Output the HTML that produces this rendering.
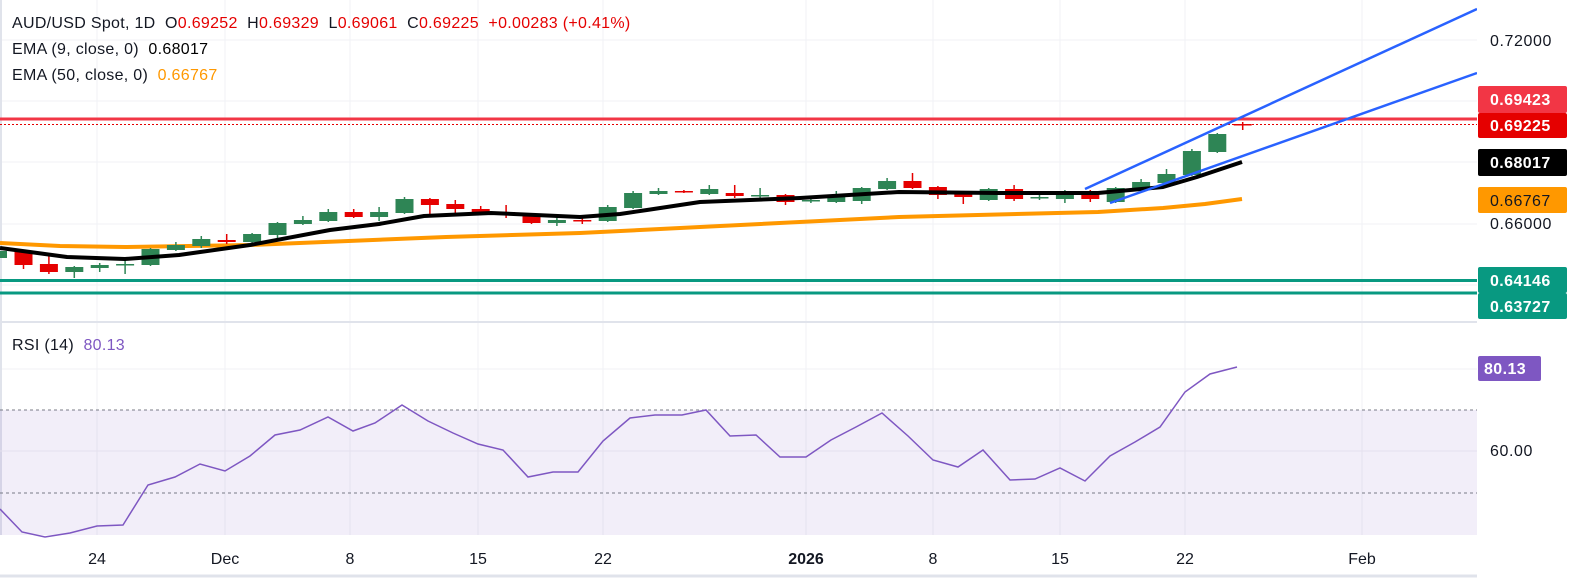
<!DOCTYPE html>
<html><head><meta charset="utf-8"><style>
html,body{margin:0;padding:0;background:#fff;}
body{width:1574px;height:578px;overflow:hidden;font-family:"Liberation Sans",sans-serif;}
svg text{font-family:"Liberation Sans",sans-serif;white-space:pre;}
</style></head><body>
<svg width="1574" height="578" viewBox="0 0 1574 578" xmlns="http://www.w3.org/2000/svg" xml:space="preserve">
<rect width="1574" height="578" fill="#fff"/>
<g stroke="#f0f2f5" stroke-width="1">
<line x1="0" y1="40" x2="1477" y2="40"/><line x1="0" y1="101" x2="1477" y2="101"/><line x1="0" y1="162" x2="1477" y2="162"/><line x1="0" y1="224" x2="1477" y2="224"/><line x1="0" y1="285" x2="1477" y2="285"/>
<line x1="0" y1="369" x2="1477" y2="369"/>
<line x1="97" y1="0" x2="97" y2="535"/><line x1="225" y1="0" x2="225" y2="535"/><line x1="350" y1="0" x2="350" y2="535"/><line x1="478" y1="0" x2="478" y2="535"/><line x1="603" y1="0" x2="603" y2="535"/><line x1="806" y1="0" x2="806" y2="535"/><line x1="933" y1="0" x2="933" y2="535"/><line x1="1060" y1="0" x2="1060" y2="535"/><line x1="1185" y1="0" x2="1185" y2="535"/><line x1="1362" y1="0" x2="1362" y2="535"/>
</g>
<line x1="0" y1="322" x2="1574" y2="322" stroke="#e0e3eb" stroke-width="2"/>
<line x1="0" y1="576" x2="1574" y2="576" stroke="#e0e3eb" stroke-width="3"/>
<line x1="1" y1="0" x2="1" y2="535" stroke="#e0e3eb" stroke-width="2"/>

<rect x="0" y="410" width="1477" height="125" fill="#7e57c2" fill-opacity="0.1"/>
<line x1="0" y1="451" x2="1477" y2="451" stroke="#e4e0ee" stroke-width="1"/>
<line x1="0" y1="410" x2="1477" y2="410" stroke="#787b86" stroke-dasharray="3,3" stroke-width="1"/>
<line x1="0" y1="493" x2="1477" y2="493" stroke="#787b86" stroke-dasharray="3,3" stroke-width="1"/>
<polyline fill="none" stroke="#7e57c2" stroke-width="1.5" points="0,509 22,532 45,537 70,533 97,526 123,525 148,485 175,477 200,464 225,471 250,456 275,435 300,430 328,417 353,431 375,423 402,405 428,421 453,433 478,444 503,450 528,477 553,472 578,472 603,441 630,418 655,415 682,415 706,410 730,436 756,435 780,457 806,457 831,440 856,427 882,413 908,436 933,460 958,467 983,450 1010,480 1035,479 1060,468 1085,481 1110,456 1135,442 1160,427 1185,392 1210,374 1237,367"/>

<line x1="0" y1="280.5" x2="1477" y2="280.5" stroke="#089981" stroke-width="3"/>
<line x1="0" y1="293" x2="1477" y2="293" stroke="#089981" stroke-width="3"/>
<line x1="0" y1="119" x2="1477" y2="119" stroke="#f23645" stroke-width="3"/>
<line x1="0" y1="124.5" x2="1477" y2="124.5" stroke="#e50000" stroke-width="1" stroke-dasharray="2,2"/>

<polyline fill="none" stroke="#ff9800" stroke-width="4" stroke-linejoin="round" points="0,243 60,246 125,247 250,245 446,237 580,233 700,227 899,217 1098,212 1163,208 1205,204 1242,199"/>

<g stroke="#2e8555" stroke-width="1.5" fill="#2e8555">
<path d="M-1.9 249V260M74.3 266V278M99.7 263V272M125.1 260V274M150.5 248V266M175.9 242V251M201.3 236V248M252.1 233V243M277.5 222V238M302.9 216V225M328.3 209V222M379.1 207V221M404.5 197V214M556.9 215V226M607.7 205V222M633.1 191V209M658.5 188V195M709.3 185V195M760.1 188V198M810.9 196V203M836.3 191V203M861.7 187V204M887.1 178V190M988.7 188V201M1039.5 192V200M1064.9 190V203M1115.7 187V203M1141.1 179V191M1166.5 169V184M1191.9 149V176M1217.3 133V153"/>
<rect x="-11" y="251" width="18" height="7" stroke="none"/>
<rect x="65.3" y="267" width="18" height="5" stroke="none"/>
<rect x="90.7" y="265" width="18" height="3" stroke="none"/>
<rect x="116.1" y="264" width="18" height="1.5" stroke="none"/>
<rect x="141.5" y="249" width="18" height="16" stroke="none"/>
<rect x="166.9" y="245" width="18" height="5" stroke="none"/>
<rect x="192.3" y="239" width="18" height="7" stroke="none"/>
<rect x="243.1" y="234" width="18" height="8" stroke="none"/>
<rect x="268.5" y="223" width="18" height="12" stroke="none"/>
<rect x="293.9" y="220" width="18" height="4" stroke="none"/>
<rect x="319.3" y="212" width="18" height="9" stroke="none"/>
<rect x="370.1" y="212" width="18" height="5" stroke="none"/>
<rect x="395.5" y="199" width="18" height="14" stroke="none"/>
<rect x="547.9" y="220" width="18" height="3" stroke="none"/>
<rect x="598.7" y="207" width="18" height="14" stroke="none"/>
<rect x="624.1" y="193" width="18" height="15" stroke="none"/>
<rect x="649.5" y="191" width="18" height="3" stroke="none"/>
<rect x="700.3" y="189" width="18" height="5" stroke="none"/>
<rect x="751.1" y="195" width="18" height="1.5" stroke="none"/>
<rect x="801.9" y="200" width="18" height="1.5" stroke="none"/>
<rect x="827.3" y="195" width="18" height="7" stroke="none"/>
<rect x="852.7" y="188" width="18" height="13" stroke="none"/>
<rect x="878.1" y="181" width="18" height="8" stroke="none"/>
<rect x="979.7" y="189" width="18" height="11" stroke="none"/>
<rect x="1030.5" y="197" width="18" height="1.5" stroke="none"/>
<rect x="1055.9" y="194" width="18" height="5" stroke="none"/>
<rect x="1106.7" y="188" width="18" height="14" stroke="none"/>
<rect x="1132.1" y="182" width="18" height="7" stroke="none"/>
<rect x="1157.5" y="174" width="18" height="9" stroke="none"/>
<rect x="1182.9" y="151" width="18" height="24" stroke="none"/>
<rect x="1208.3" y="134" width="18" height="18" stroke="none"/>
</g>
<g stroke="#e50000" stroke-width="1.5" fill="#e50000">
<path d="M23.5 250V269M48.9 253V274M226.7 234V244M353.7 209V218M429.9 198V215M455.3 200V213M480.7 206V214M506.1 205V218M531.5 213V224M582.3 216V224M683.9 190V193M734.7 185V198M785.5 194V205M912.5 173V189M937.9 186V199M963.3 192V204M1014.1 185V201M1090.3 190V202M1242.7 122V130"/>
<rect x="14.5" y="251" width="18" height="14" stroke="none"/>
<rect x="39.9" y="264" width="18" height="8" stroke="none"/>
<rect x="217.7" y="240" width="18" height="2" stroke="none"/>
<rect x="344.7" y="212" width="18" height="5" stroke="none"/>
<rect x="420.9" y="199" width="18" height="6" stroke="none"/>
<rect x="446.3" y="204" width="18" height="5" stroke="none"/>
<rect x="471.7" y="209" width="18" height="4" stroke="none"/>
<rect x="497.1" y="212" width="18" height="2" stroke="none"/>
<rect x="522.5" y="214" width="18" height="9" stroke="none"/>
<rect x="573.3" y="220" width="18" height="1.5" stroke="none"/>
<rect x="674.9" y="191" width="18" height="1.5" stroke="none"/>
<rect x="725.7" y="193" width="18" height="3" stroke="none"/>
<rect x="776.5" y="195" width="18" height="7" stroke="none"/>
<rect x="903.5" y="181" width="18" height="7" stroke="none"/>
<rect x="928.9" y="187" width="18" height="8" stroke="none"/>
<rect x="954.3" y="194" width="18" height="3" stroke="none"/>
<rect x="1005.1" y="189" width="18" height="10" stroke="none"/>
<rect x="1081.3" y="194" width="18" height="5" stroke="none"/>
<rect x="1233.7" y="124" width="18" height="1.5" stroke="none"/>
</g>

<polyline fill="none" stroke="#000" stroke-width="4" stroke-linejoin="round" points="0,248 30,252 67,257 125,259 179,255 250,245 330,230 379,224 424,216 491,213 580,217 620,214 647,210 700,202 800,198 899,192 999,193 1098,193 1163,187 1197,177 1242,162"/>

<line x1="1085" y1="189" x2="1477" y2="9" stroke="#2962ff" stroke-width="2.5"/>
<line x1="1110" y1="203" x2="1477" y2="73" stroke="#2962ff" stroke-width="2.5"/>

<rect x="1477" y="0" width="97" height="578" fill="#fff"/>
<g font-size="16" fill="#131722" letter-spacing="0.6">
<text x="1490" y="46">0.72000</text>
<text x="1490" y="229">0.66000</text>
<text x="1490" y="456">60.00</text>
</g>
<g font-size="16" font-weight="bold" fill="#fff" letter-spacing="0.4">
<rect x="1478" y="86" width="89" height="27" rx="2" fill="#f23645"/>
<text x="1490" y="105">0.69423</text>
<rect x="1478" y="113" width="89" height="25" rx="2" fill="#e50000"/>
<text x="1490" y="131">0.69225</text>
<rect x="1478" y="149" width="89" height="27" rx="2" fill="#000"/>
<text x="1490" y="168">0.68017</text>
<rect x="1478" y="187" width="89" height="26" rx="2" fill="#ff9800"/>
<text x="1490" y="206" fill="#131722" font-weight="normal">0.66767</text>
<rect x="1478" y="267" width="89" height="26" rx="2" fill="#089981"/>
<text x="1490" y="286">0.64146</text>
<rect x="1478" y="293" width="89" height="26" rx="2" fill="#089981"/>
<text x="1490" y="312">0.63727</text>
<rect x="1478" y="356" width="63" height="25" rx="2" fill="#7e57c2"/>
<text x="1484" y="374">80.13</text>
</g>

<g font-size="16" fill="#131722" text-anchor="middle">
<text x="97" y="564">24</text><text x="225" y="564">Dec</text><text x="350" y="564">8</text><text x="478" y="564">15</text><text x="603" y="564">22</text><text x="806" y="564" font-weight="bold">2026</text><text x="933" y="564">8</text><text x="1060" y="564">15</text><text x="1185" y="564">22</text><text x="1362" y="564">Feb</text>
</g>

<g font-size="16" fill="#131722" letter-spacing="0.3">
<text x="12" y="28">AUD/USD Spot, 1D  O<tspan fill="#e50000">0.69252</tspan>  H<tspan fill="#e50000">0.69329</tspan>  L<tspan fill="#e50000">0.69061</tspan>  C<tspan fill="#e50000">0.69225</tspan>  <tspan fill="#e50000">+0.00283 (+0.41%)</tspan></text>
<text x="12" y="54">EMA (9, close, 0)  <tspan fill="#000">0.68017</tspan></text>
<text x="12" y="80">EMA (50, close, 0)  <tspan fill="#ff9800">0.66767</tspan></text>
<text x="12" y="350">RSI (14)  <tspan fill="#7e57c2">80.13</tspan></text>
</g>
</svg>
</body></html>
